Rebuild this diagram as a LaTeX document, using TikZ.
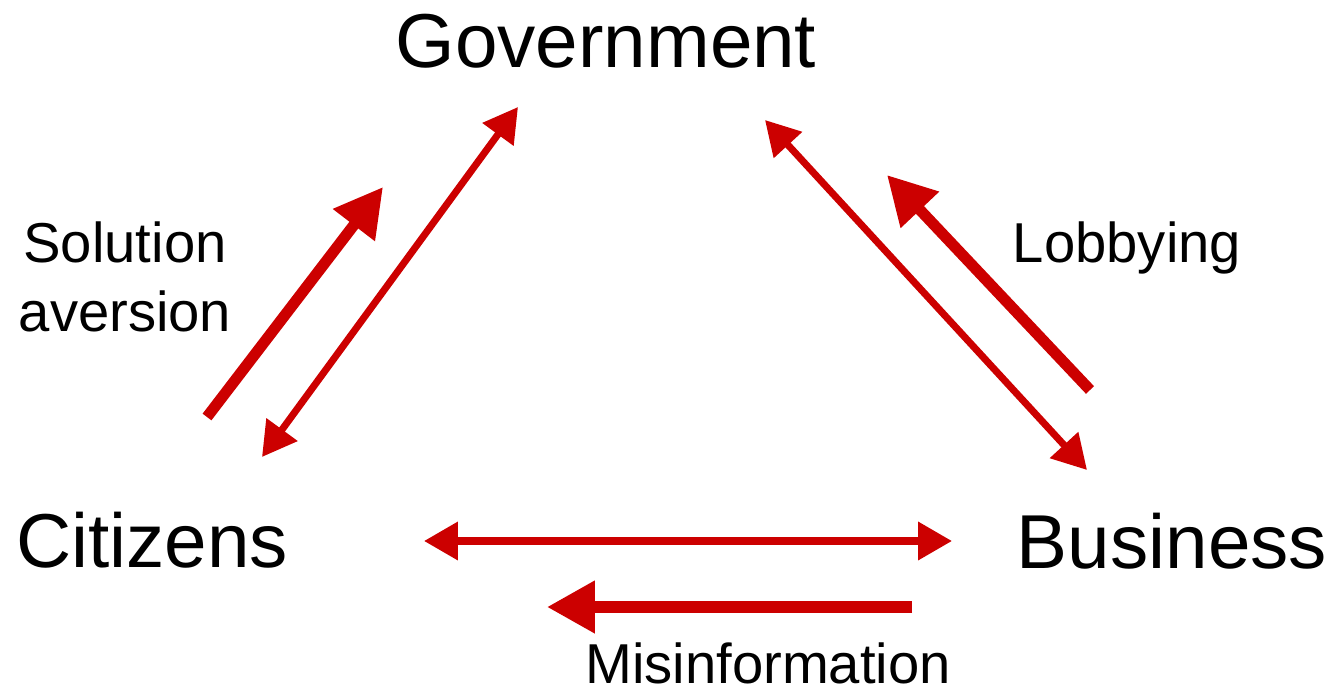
\documentclass[tikz,border=0pt]{standalone}
\usepackage{fontspec}
\setmainfont{Liberation Sans}
\usetikzlibrary{arrows.meta}
\definecolor{arrowred}{RGB}{204,0,0}
\tikzset{
  bigtext/.style={font=\fontsize{43.5pt}{52pt}\selectfont, inner sep=0pt, anchor=base},
  smalltext/.style={font=\fontsize{32pt}{39.3pt}\selectfont, inner sep=0pt},
  thinarrow/.style={draw=arrowred, line width=4pt,
    {Triangle[length=0.68cm,width=0.74cm]}-{Triangle[length=0.68cm,width=0.74cm]}},
  thickarrow/.style={draw=arrowred, line width=6.3pt,
    -{Triangle[length=0.96cm,width=1.0cm]}},
}
\begin{document}
\begin{tikzpicture}[x=0.02cm,y=-0.02cm]
\useasboundingbox (0,0) rectangle (1332,692);
% main nodes
\node[bigtext] (gov) at (606,68) {Government};
\node[bigtext] (cit) at (152,567) {Citizens};
\node[bigtext] (bus) at (1172,568) {Business};
% labels
\node[smalltext, align=center] (sol) at (125,277) {Solution\\aversion};
\node[smalltext, anchor=base] (lob) at (1127,263) {Lobbying};
\node[smalltext, anchor=base] (mis) at (768,683) {Misinformation};
% arrow end points
\coordinate (sa1) at (207,417);
\coordinate (sa2) at (383,187);
\coordinate (cg1) at (262,457);
\coordinate (cg2) at (518,107);
\coordinate (gb1) at (765,120);
\coordinate (gb2) at (1087,470);
\coordinate (lb1) at (1090,390);
\coordinate (lb2) at (887,175);
\coordinate (cb1) at (424,541);
\coordinate (cb2) at (952,541);
\coordinate (mi1) at (912,607);
\coordinate (mi2) at (547,607);
% arrows
\draw[thickarrow] (sa1) -- (sa2);
\draw[thinarrow] (cg1) -- (cg2);
\draw[thinarrow] (gb1) -- (gb2);
\draw[thickarrow] (lb1) -- (lb2);
\draw[thinarrow] (cb1) -- (cb2);
\draw[thickarrow] (mi1) -- (mi2);
\end{tikzpicture}
\end{document}
